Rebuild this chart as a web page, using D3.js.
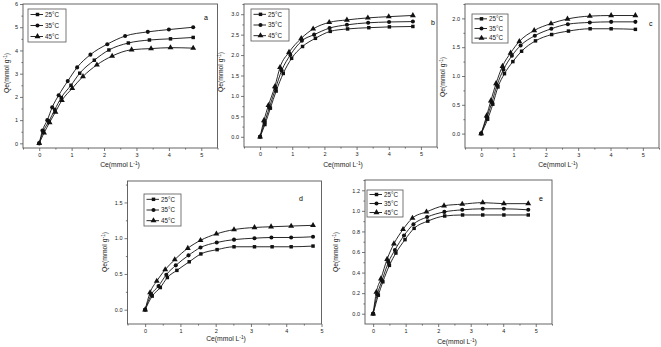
<!DOCTYPE html>
<html><head><meta charset="utf-8">
<script src="https://cdn.jsdelivr.net/npm/d3@7"></script>
<style>
body{margin:0;background:#fff;}
svg{display:block;font-family:"Liberation Sans",Arial,sans-serif;}
</style></head><body>
<svg id="c" width="661" height="347"></svg>
<script>
// ---- data ----
const seriesNames = ["25°C","35°C","45°C"];
// panel a
const a_x25 = [0,0.12,0.3,0.48,0.68,0.98,1.25,1.7,2.15,2.75,3.4,4.05,4.75];
const a_y25 = [0,0.5,0.95,1.45,1.97,2.5,3.02,3.58,4.02,4.32,4.45,4.5,4.56];
const a_x35 = [0,0.1,0.25,0.4,0.6,0.88,1.17,1.58,2.1,2.65,3.35,4.0,4.75];
const a_y35 = [0,0.55,1.0,1.55,2.07,2.68,3.27,3.82,4.27,4.62,4.8,4.9,5.0];
const a_x45 = [0,0.15,0.32,0.5,0.7,1.02,1.35,1.78,2.25,2.85,3.45,4.05,4.75];
const a_y45 = [0,0.45,0.9,1.35,1.85,2.37,2.88,3.38,3.76,4.03,4.08,4.12,4.1];
// panel b
const b_x25 = [0,0.15,0.32,0.5,0.72,0.98,1.32,1.72,2.18,2.72,3.38,4.02,4.75];
const b_y25 = [0,0.3,0.7,1.12,1.55,1.92,2.21,2.41,2.58,2.64,2.67,2.69,2.7];
const b_x35 = [0,0.14,0.29,0.48,0.67,0.94,1.3,1.68,2.16,2.7,3.36,4.01,4.75];
const b_y35 = [0,0.35,0.72,1.18,1.62,2.0,2.35,2.5,2.66,2.74,2.79,2.81,2.82];
const b_x45 = [0,0.12,0.26,0.46,0.62,0.9,1.28,1.65,2.15,2.7,3.35,4.0,4.75];
const b_y45 = [0,0.4,0.77,1.23,1.7,2.07,2.41,2.64,2.8,2.86,2.91,2.94,2.97];
// panel c
const c_x25 = [0,0.2,0.36,0.52,0.72,0.98,1.25,1.68,2.18,2.7,3.37,4.02,4.77];
const c_y25 = [0,0.25,0.51,0.81,1.04,1.25,1.43,1.61,1.72,1.78,1.82,1.82,1.81];
const c_x35 = [0,0.18,0.33,0.49,0.69,0.95,1.22,1.66,2.17,2.68,3.36,4.02,4.77];
const c_y35 = [0,0.28,0.54,0.84,1.11,1.35,1.53,1.7,1.82,1.9,1.93,1.94,1.94];
const c_x45 = [0,0.17,0.3,0.46,0.66,0.91,1.18,1.64,2.16,2.67,3.36,4.02,4.77];
const c_y45 = [0,0.31,0.57,0.87,1.17,1.4,1.6,1.79,1.91,1.99,2.04,2.05,2.05];
// panel d
const d_x25 = [0,0.2,0.43,0.63,0.9,1.25,1.58,2.04,2.52,3.1,3.6,4.14,4.76];
const d_y25 = [0,0.19,0.31,0.45,0.55,0.67,0.78,0.84,0.88,0.88,0.88,0.88,0.89];
const d_x35 = [0,0.17,0.38,0.6,0.87,1.23,1.57,2.03,2.52,3.1,3.58,4.14,4.76];
const d_y35 = [0,0.21,0.33,0.49,0.62,0.76,0.87,0.94,0.98,1.0,1.01,1.01,1.02];
const d_x45 = [0,0.14,0.33,0.57,0.84,1.21,1.57,2.02,2.52,3.1,3.57,4.14,4.76];
const d_y45 = [0,0.24,0.4,0.56,0.7,0.86,0.97,1.06,1.12,1.15,1.16,1.17,1.18];
// panel e
const e_x25 = [0,0.16,0.3,0.5,0.7,0.98,1.26,1.68,2.2,2.75,3.37,4.02,4.77];
const e_y25 = [0,0.18,0.31,0.47,0.59,0.72,0.83,0.9,0.95,0.96,0.96,0.96,0.96];
const e_x35 = [0,0.13,0.27,0.47,0.67,0.95,1.24,1.66,2.19,2.74,3.37,4.02,4.77];
const e_y35 = [0,0.19,0.32,0.5,0.62,0.76,0.87,0.94,0.99,1.01,1.02,1.02,1.01];
const e_x45 = [0,0.1,0.24,0.43,0.64,0.92,1.21,1.64,2.18,2.74,3.37,4.02,4.77];
const e_y45 = [0,0.21,0.34,0.53,0.68,0.82,0.93,0.99,1.05,1.065,1.08,1.07,1.07];
// ticks
const xTicks = [0,1,2,3,4,5];
const aYTicks = [0,1,2,3,4,5,6];
const bYTicks = [0,0.5,1.0,1.5,2.0,2.5,3.0];
const cYTicks = [0,0.5,1.0,1.5,2.0];
const dYTicks = [0,0.5,1.0,1.5];
const eYTicks = [0,0.2,0.4,0.6,0.8,1.0,1.2];
const panelLetters = ["a","b","c","d","e"];

// ---- layout ----
const panels = [
  {letter:"a", xs:[a_x25,a_x35,a_x45], ys:[a_y25,a_y35,a_y45], xd:[-0.5,5.5], yd:[-0.2,6], l:23, r:217.5, t:4, b:148, yt:aYTicks, fmt:d3.format("d"), minorY:0.5,
   leg:{x:28,y:9,w:38,h:33}, lab:{x:204,y:20}, xt:{x:120,y:167}, ytl:{x:9,y:73}},
  {letter:"b", xs:[b_x25,b_x35,b_x45], ys:[b_y25,b_y35,b_y45], xd:[-0.5,5.5], yd:[-0.25,3.25], l:244, r:437, t:4, b:147, yt:bYTicks, fmt:d3.format(".1f"), minorY:0.25,
   leg:{x:251,y:9,w:38,h:32}, lab:{x:431,y:25}, xt:{x:343,y:167}, ytl:{x:223,y:72}},
  {letter:"c", xs:[c_x25,c_x35,c_x45], ys:[c_y25,c_y35,c_y45], xd:[-0.5,5.5], yd:[-0.25,2.25], l:465, r:659, t:4, b:148, yt:cYTicks, fmt:d3.format(".1f"), minorY:0.25,
   leg:{x:472,y:14,w:36,h:29}, lab:{x:649,y:26}, xt:{x:558,y:167}, ytl:{x:445,y:77}},
  {letter:"d", xs:[d_x25,d_x35,d_x45], ys:[d_y25,d_y35,d_y45], xd:[-0.5,5], yd:[-0.2,1.8], l:127.5, r:321.5, t:181, b:324, yt:dYTicks, fmt:d3.format(".1f"), minorY:0.25,
   leg:{x:144,y:194,w:37,h:32}, lab:{x:299,y:201}, xt:{x:226,y:341}, ytl:{x:107,y:252}},
  {letter:"e", xs:[e_x25,e_x35,e_x45], ys:[e_y25,e_y35,e_y45], xd:[-0.25,5.5], yd:[-0.1,1.3], l:365, r:552, t:180, b:324, yt:eYTicks, fmt:d3.format(".1f"), minorY:0.1,
   leg:{x:367,y:190,w:36,h:27}, lab:{x:539,y:201}, xt:{x:457,y:344}, ytl:{x:338,y:252}}
];

const svg = d3.select("#c");
const frameCol = "#555", ink = "#111", textCol = "#222";
const shapes = [d3.symbolSquare, d3.symbolCircle, d3.symbolTriangle];
const sizes = [12, 13, 15];

panels.forEach(p => {
  const g = svg.append("g");
  const x = d3.scaleLinear().domain(p.xd).range([p.l, p.r]);
  const y = d3.scaleLinear().domain(p.yd).range([p.b, p.t]);
  // frame
  g.append("rect").attr("x",p.l).attr("y",p.t).attr("width",p.r-p.l).attr("height",p.b-p.t)
    .attr("fill","none").attr("stroke",frameCol).attr("stroke-width",0.9);
  // x axis
  const xMinor = d3.range(Math.ceil(p.xd[0]*2)/2, p.xd[1]+0.001, 0.5).filter(v=>!xTicks.includes(v));
  g.append("g").attr("transform",`translate(0,${p.b})`)
    .call(d3.axisBottom(x).tickValues(xTicks).tickSize(3).tickPadding(2).tickFormat(d3.format("d")));
  g.append("g").attr("transform",`translate(0,${p.b})`)
    .call(d3.axisBottom(x).tickValues(xMinor).tickSize(1.6).tickFormat(""));
  g.append("g").attr("transform",`translate(${p.l},0)`)
    .call(d3.axisLeft(y).tickValues(p.yt).tickSize(3).tickPadding(2).tickFormat(p.fmt));
  const yMinor = d3.range(0, p.yd[1]+1e-6, p.minorY).filter(v=>!p.yt.some(t=>Math.abs(t-v)<1e-6));
  g.append("g").attr("transform",`translate(${p.l},0)`)
    .call(d3.axisLeft(y).tickValues(yMinor).tickSize(1.6).tickFormat(""));
  g.selectAll(".domain").remove();
  g.selectAll(".tick line").attr("stroke",frameCol).attr("stroke-width",0.8);
  g.selectAll(".tick text").attr("font-size",5.5).attr("fill",textCol).attr("font-family","Liberation Sans, Arial, sans-serif");

  // series
  const line = d3.line().x(d=>x(d[0])).y(d=>y(d[1])).curve(d3.curveMonotoneX);
  p.xs.forEach((xs, i) => {
    const pts = xs.map((v,j)=>[v, p.ys[i][j]]);
    g.append("path").attr("d", line(pts)).attr("fill","none").attr("stroke",ink).attr("stroke-width",0.9);
    g.selectAll(null).data(pts).enter().append("path")
      .attr("d", d3.symbol().type(shapes[i]).size(sizes[i])())
      .attr("transform", d=>`translate(${x(d[0])},${y(d[1])})`)
      .attr("fill",ink);
  });

  // legend
  const L = p.leg;
  g.append("rect").attr("x",L.x).attr("y",L.y).attr("width",L.w).attr("height",L.h)
    .attr("fill","#fff").attr("stroke",frameCol).attr("stroke-width",0.8);
  const step = L.h/3;
  seriesNames.forEach((nm,i)=>{
    const cy = L.y + step*(i+0.5);
    g.append("line").attr("x1",L.x+2.5).attr("x2",L.x+15).attr("y1",cy).attr("y2",cy).attr("stroke",ink).attr("stroke-width",0.9);
    g.append("path").attr("d", d3.symbol().type(shapes[i]).size(sizes[i])()).attr("transform",`translate(${L.x+9.5},${cy})`).attr("fill",ink);
    g.append("text").attr("x",L.x+17).attr("y",cy+2.2).attr("font-size",6.3).attr("fill",textCol).text(nm);
  });

  // panel letter
  g.append("text").attr("x",p.lab.x).attr("y",p.lab.y).attr("font-size",7).attr("fill","#000").text(p.letter);
  // axis titles
  const xtg = g.append("text").attr("font-size",6.8).attr("fill",textCol).attr("text-anchor","middle")
    .attr("transform",`translate(${p.xt.x},${p.xt.y})`);
  xtg.append("tspan").text("Ce(mmol L");
  xtg.append("tspan").attr("dy",-2.5).attr("font-size",4.8).text("-1");
  xtg.append("tspan").attr("dy",2.5).text(")");
  const ytg = g.append("text").attr("font-size",6.8).attr("fill",textCol).attr("text-anchor","middle")
    .attr("transform",`translate(${p.ytl.x},${p.ytl.y}) rotate(-90)`);
  ytg.append("tspan").text("Qe(mmol g");
  ytg.append("tspan").attr("dy",-2.5).attr("font-size",4.8).text("-1");
  ytg.append("tspan").attr("dy",2.5).text(")");
});
</script>
</body></html>
